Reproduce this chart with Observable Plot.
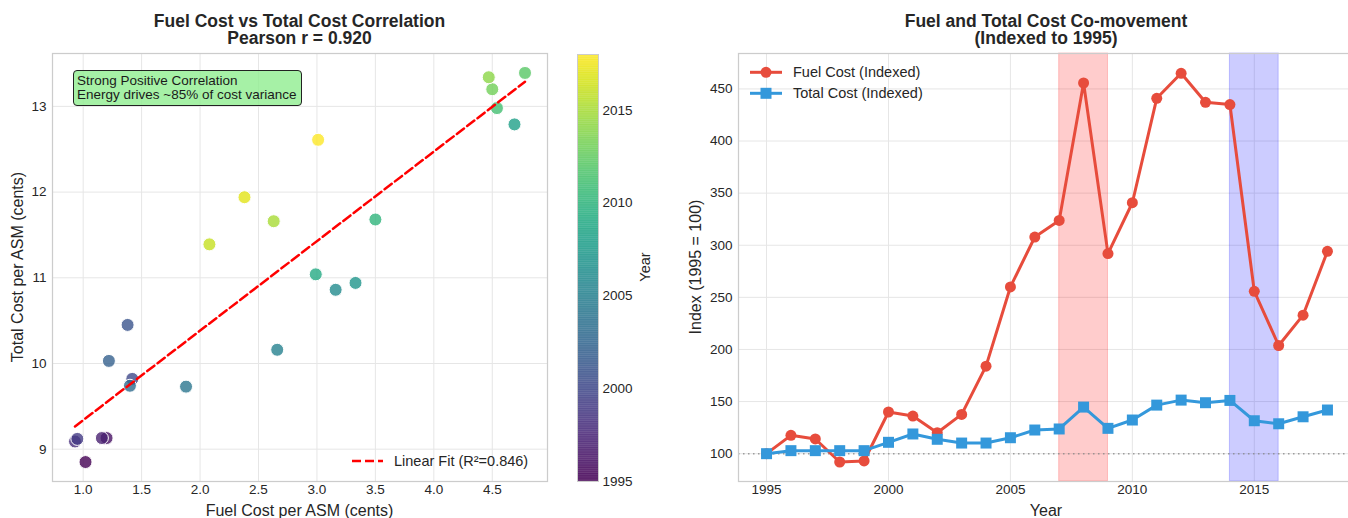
<!DOCTYPE html>
<html><head><meta charset="utf-8">
<script src="https://cdn.jsdelivr.net/npm/d3@7"></script>
<script src="https://cdn.jsdelivr.net/npm/@observablehq/plot@0.6"></script>
<style>
html,body{margin:0;padding:0;background:#fff;overflow:hidden;}
#root{position:relative;width:1348px;height:518px;overflow:hidden;font-family:"Liberation Sans",Arial,sans-serif;color:#262626;}
#root svg{position:absolute;top:0;}
.title{position:absolute;font-weight:bold;font-size:17.5px;text-align:center;line-height:17.5px;white-space:nowrap;transform:translateX(-50%);color:#262626;}
.lab{position:absolute;font-size:16px;white-space:nowrap;line-height:16px;color:#262626;}
.leg{position:absolute;font-size:14.5px;white-space:nowrap;line-height:15px;color:#262626;}
.box{position:absolute;font-size:13.5px;line-height:14px;white-space:nowrap;background:rgba(144,238,144,0.8);border:1px solid #222;border-radius:4px;padding:3px 4px 3px 3px;color:#1a1a1a;}
</style></head><body><div id="root"></div>
<script>
// ---- data ----
const years = [1995,1996,1997,1998,1999,2000,2001,2002,2003,2004,2005,2006,2007,2008,2009,2010,2011,2012,2013,2014,2015,2016,2017,2018];
const fuelCost = [1.02,1.20,1.16,0.93,0.95,1.42,1.38,1.22,1.40,1.88,2.66,3.16,3.33,4.69,2.99,3.50,4.54,4.78,4.50,4.47,2.63,2.08,2.38,3.01];
const totalCost = [8.85,9.13,9.13,9.09,9.12,9.82,10.45,10.03,9.74,9.73,10.16,10.86,10.94,12.79,11.04,11.68,12.98,13.39,13.20,13.34,11.66,11.39,11.94,12.61];
const fuelIndex = [100,117.6,114.1,92.0,93.0,140,136.1,120.1,137.7,184,260,307.9,323.8,455.7,292,340.8,441,465,437.2,435,255.8,203.8,232.9,294.2];
const totalIndex = [100,102.9,102.9,102.9,102.9,110.9,118.9,113.8,110.2,110.2,115.3,122.7,123.7,144.7,124.3,132.3,146.6,151.4,148.9,151.1,131.6,128.7,135.4,141.9];
const scatterXTicks = [1.0,1.5,2.0,2.5,3.0,3.5,4.0,4.5];
const scatterYTicks = [9,10,11,12,13];
const colorbarTicks = [1995,2000,2005,2010,2015];
const yearTicks = [1995,2000,2005,2010,2015];
const indexTicks = [100,150,200,250,300,350,400,450];
const spanStarts = [2007,2014];
const spanEnds = [2009,2016];
const spanColors = ["#ff0000","#0000ff"];

const root = document.getElementById("root");
const FONT = '"Liberation Sans",Arial,sans-serif';
const TICK_FS = 13.5;
const baseStyle = {fontFamily: FONT, fontSize: TICK_FS + "px", color: "#262626", background: "transparent", overflow: "visible"};
const GRID = "#e6e6e6", SPINE = "#cccccc";
const colorScale = {type: "linear", scheme: "viridis", domain: [1995, 2018]};

const scatterData = years.map((year, i) => ({year, fuel: fuelCost[i], total: totalCost[i]}));

// ---- left scatter ----
const left = Plot.plot({
  width: 560, height: 518, marginLeft: 52, marginRight: 13, marginTop: 53, marginBottom: 37,
  style: baseStyle,
  x: {domain: [0.7375, 4.9725]},
  y: {domain: [8.623, 13.617]},
  color: colorScale,
  marks: [
    Plot.gridX(scatterXTicks, {stroke: GRID, strokeOpacity: 1}),
    Plot.gridY(scatterYTicks, {stroke: GRID, strokeOpacity: 1}),
    Plot.dot(scatterData, {x: "fuel", y: "total", fill: "year", r: 6.5, fillOpacity: 0.8, stroke: "white", strokeWidth: 1}),
    Plot.linearRegressionY(scatterData, {x: "fuel", y: "total", stroke: "#ff0000", strokeWidth: 2.5, strokeDasharray: "9,4", ci: 0}),
    Plot.frame({stroke: SPINE, strokeWidth: 1.25}),
    Plot.axisX(scatterXTicks, {tickSize: 0, tickPadding: 3, fontSize: TICK_FS, tickFormat: d => d.toFixed(1), label: null}),
    Plot.axisY(scatterYTicks, {tickSize: 0, tickPadding: 6, fontSize: TICK_FS, tickFormat: "d", label: null})
  ]
});
left.style.left = "0px";
root.appendChild(left);

// ---- colorbar ----
const cbSteps = d3.range(1995, 2018, 0.1);
const cb = Plot.plot({
  width: 100, height: 518, marginLeft: 17, marginRight: 62, marginTop: 54, marginBottom: 37,
  style: baseStyle,
  x: {domain: [0, 1], axis: null},
  y: {domain: [1995, 2018]},
  color: colorScale,
  marks: [
    Plot.rect(cbSteps, {x1: 0, x2: 1, y1: d => d, y2: d => Math.min(d + 0.13, 2018), fill: d => d, fillOpacity: 0.8}),
    Plot.frame({stroke: SPINE, strokeWidth: 1}),
    Plot.axisY(colorbarTicks, {anchor: "right", tickSize: 0, tickPadding: 4, fontSize: TICK_FS, tickFormat: "d", label: null})
  ]
});
cb.style.left = "560px";
root.appendChild(cb);

// ---- right indexed lines ----
const fuelData = years.map((year, i) => ({year, value: fuelIndex[i]}));
const totalData = years.map((year, i) => ({year, value: totalIndex[i]}));
const spans = spanStarts.map((s, i) => ({start: s, end: spanEnds[i], color: spanColors[i]}));
const right = Plot.plot({
  width: 700, height: 518, marginLeft: 66, marginRight: 17, marginTop: 53, marginBottom: 37,
  style: baseStyle,
  x: {domain: [1993.85, 2019.15]},
  y: {domain: [73.3, 484]},
  marks: [
    Plot.gridX(yearTicks, {stroke: GRID, strokeOpacity: 1}),
    Plot.gridY(indexTicks, {stroke: GRID, strokeOpacity: 1}),
    Plot.rect(spans, {x1: "start", x2: "end", fill: "color", fillOpacity: 0.2, stroke: "color", strokeOpacity: 0.2}),
    Plot.ruleY([100], {stroke: "#888", strokeOpacity: 0.8, strokeWidth: 1.5, strokeDasharray: "1.5,3.5"}),
    Plot.line(fuelData, {x: "year", y: "value", stroke: "#e74c3c", strokeWidth: 3}),
    Plot.dot(fuelData, {x: "year", y: "value", fill: "#e74c3c", r: 5.5}),
    Plot.line(totalData, {x: "year", y: "value", stroke: "#3498db", strokeWidth: 3}),
    Plot.dot(totalData, {x: "year", y: "value", fill: "#3498db", symbol: "square", r: 6.2}),
    Plot.frame({stroke: SPINE, strokeWidth: 1.25}),
    Plot.axisX(yearTicks, {tickSize: 0, tickPadding: 3, fontSize: TICK_FS, tickFormat: "d", label: null}),
    Plot.axisY(indexTicks, {tickSize: 0, tickPadding: 6, fontSize: TICK_FS, label: null})
  ]
});
right.style.left = "672px";
root.appendChild(right);

// ---- text, legends, annotations ----
function add(html) { root.insertAdjacentHTML("beforeend", html); }
add('<div class="title" style="left:299.5px;top:12.5px">Fuel Cost vs Total Cost Correlation<br>Pearson r = 0.920</div>');
add('<div class="title" style="left:1046px;top:12.5px">Fuel and Total Cost Co-movement<br>(Indexed to 1995)</div>');
add('<div class="lab" style="left:299.5px;top:503px;transform:translateX(-50%)">Fuel Cost per ASM (cents)</div>');
add('<div class="lab" style="left:18px;top:267px;transform:translate(-50%,-50%) rotate(-90deg)">Total Cost per ASM (cents)</div>');
add('<div class="lab" style="left:1046px;top:503px;transform:translateX(-50%)">Year</div>');
add('<div class="lab" style="left:696px;top:267px;transform:translate(-50%,-50%) rotate(-90deg)">Index (1995 = 100)</div>');
add('<div class="lab" style="left:645px;top:267px;font-size:14.5px;transform:translate(-50%,-50%) rotate(-90deg)">Year</div>');
add('<div class="box" style="left:73px;top:70px">Strong Positive Correlation<br>Energy drives ~85% of cost variance</div>');
// scatter legend
add('<svg width="40" height="10" style="left:350px;top:455.5px"><line x1="2" y1="5" x2="33" y2="5" stroke="#ff0000" stroke-width="2.5" stroke-dasharray="9,4"/></svg>');
add('<div class="leg" style="left:394px;top:453.5px">Linear Fit (R²=0.846)</div>');
// line legend
add('<svg width="40" height="40" style="left:748px;top:62px"><line x1="2" y1="10.3" x2="34" y2="10.3" stroke="#e74c3c" stroke-width="3"/><circle cx="18" cy="10.3" r="5.5" fill="#e74c3c"/><line x1="2" y1="31.3" x2="34" y2="31.3" stroke="#3498db" stroke-width="3"/><rect x="12.5" y="25.8" width="11" height="11" fill="#3498db"/></svg>');
add('<div class="leg" style="left:793px;top:65px">Fuel Cost (Indexed)</div>');
add('<div class="leg" style="left:793px;top:86px">Total Cost (Indexed)</div>');
</script></body></html>
